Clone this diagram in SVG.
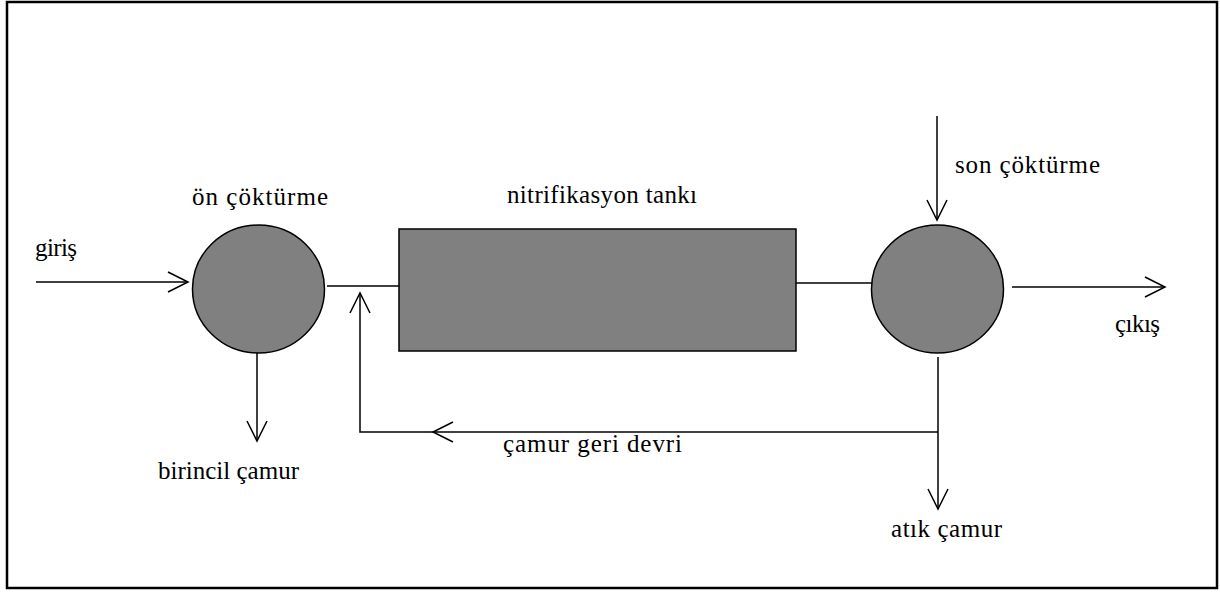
<svg xmlns="http://www.w3.org/2000/svg" width="1220" height="592" viewBox="0 0 1220 592">
  <style>
    text { font-family: "Liberation Serif", "Times New Roman", "DejaVu Serif", serif; font-size: 25px; fill: #000; }
    .tank { fill: #808080; stroke: #000; stroke-width: 1.5; }
    .ln { fill: none; stroke: #000; stroke-width: 1.5; }
  </style>
  <defs>
    <marker id="vhead" markerUnits="userSpaceOnUse" viewBox="-1 -12 24 24" markerWidth="24" markerHeight="24" refX="20" refY="0" orient="auto">
      <path d="M0,-10 L20,0 L0,10" fill="none" stroke="#000" stroke-width="1.5"/>
    </marker>
  </defs>
  <rect x="7" y="2" width="1210" height="586" fill="#fff" stroke="#000" stroke-width="2.5"/>

  <g id="connectors">
    <line class="ln" x1="36" y1="282" x2="188" y2="282" marker-end="url(#vhead)"/>
    <line class="ln" x1="327" y1="286" x2="399" y2="286"/>
    <line class="ln" x1="796" y1="283" x2="872" y2="283"/>
    <line class="ln" x1="937" y1="116" x2="937" y2="220" marker-end="url(#vhead)"/>
    <line class="ln" x1="1012" y1="287" x2="1165" y2="287" marker-end="url(#vhead)"/>
    <line class="ln" x1="257" y1="353" x2="257" y2="441" marker-end="url(#vhead)"/>
    <line class="ln" x1="938" y1="357" x2="938" y2="509" marker-end="url(#vhead)"/>
    <line class="ln" x1="938" y1="432" x2="433" y2="432" marker-end="url(#vhead)"/>
    <path class="ln" d="M433,432 H360 V293" marker-end="url(#vhead)"/>
  </g>

  <g id="on-cokturme">
    <ellipse class="tank" cx="258.5" cy="289" rx="66" ry="64"/>
    <text x="192" y="205" textLength="136">ön çöktürme</text>
  </g>
  <g id="nitrifikasyon-tanki">
    <rect class="tank" x="399" y="229" width="397" height="122"/>
    <text x="507" y="203" textLength="190">nitrifikasyon tankı</text>
  </g>
  <g id="son-cokturme">
    <ellipse class="tank" cx="937.5" cy="289" rx="66" ry="64"/>
    <text x="955" y="173" textLength="145">son çöktürme</text>
  </g>
  <g id="giris">
    <text x="35" y="256" textLength="42">giriş</text>
  </g>
  <g id="cikis">
    <text x="1115" y="332" textLength="45">çıkış</text>
  </g>
  <g id="birincil-camur">
    <text x="158" y="479" textLength="141">birincil çamur</text>
  </g>
  <g id="camur-geri-devri">
    <text x="503" y="452" textLength="179">çamur geri devri</text>
  </g>
  <g id="atik-camur">
    <text x="891" y="537" textLength="111">atık çamur</text>
  </g>
</svg>
